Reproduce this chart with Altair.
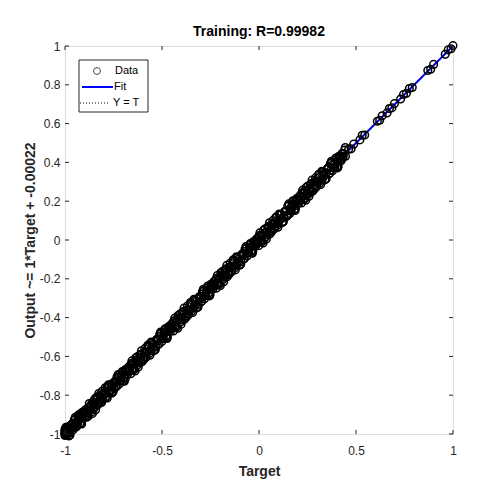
import altair as alt
import pandas as pd

targets = [-1.000, -0.995, -0.990, -0.984, -0.978, -0.971, -0.963, -0.955, -0.946, -0.938,
           -0.929, -0.920, -0.911, -0.902, -0.893, -0.884, -0.874, -0.865, -0.855, -0.846,
           -0.836, -0.826, -0.816, -0.806, -0.797, -0.787, -0.777, -0.767, -0.757, -0.746,
           -0.736, -0.726, -0.715, -0.705, -0.694, -0.684, -0.673, -0.662, -0.652, -0.641,
           -0.630, -0.620, -0.609, -0.598, -0.587, -0.577, -0.566, -0.555, -0.544, -0.533,
           -0.522, -0.511, -0.500, -0.489, -0.478, -0.467, -0.456, -0.445, -0.434, -0.423,
           -0.412, -0.401, -0.390, -0.379, -0.368, -0.357, -0.346, -0.335, -0.324, -0.313,
           -0.302, -0.291, -0.280, -0.269, -0.258, -0.247, -0.236, -0.225, -0.214, -0.203,
           -0.192, -0.181, -0.170, -0.159, -0.148, -0.137, -0.126, -0.115, -0.104, -0.093,
           -0.082, -0.071, -0.060, -0.049, -0.038, -0.027, -0.016, -0.005, 0.006, 0.017,
           0.028, 0.039, 0.050, 0.061, 0.072, 0.083, 0.094, 0.105, 0.116, 0.127,
           0.138, 0.149, 0.160, 0.171, 0.182, 0.193, 0.204, 0.215, 0.226, 0.237,
           0.248, 0.259, 0.270, 0.281, 0.292, 0.303, 0.314, 0.325, 0.336, 0.347,
           0.358, 0.369, 0.380, 0.391, 0.402, 0.413, 0.424, 0.435, 0.446,
           0.462, 0.475, 0.488, 0.520, 0.532, 0.545, 0.610, 0.622, 0.635, 0.660,
           0.672, 0.685, 0.698, 0.730, 0.745, 0.760, 0.775, 0.790, 0.870, 0.885,
           0.900, 0.960, 0.975, 0.990, 1.000]

outputs = [-0.996, -1.003, -0.985, -0.996, -0.970, -0.975, -0.948, -0.966, -0.940, -0.955,
           -0.927, -0.907, -0.918, -0.892, -0.907, -0.879, -0.876, -0.849, -0.865, -0.838,
           -0.824, -0.834, -0.812, -0.821, -0.788, -0.790, -0.760, -0.778, -0.751, -0.765,
           -0.734, -0.713, -0.722, -0.695, -0.708, -0.679, -0.675, -0.646, -0.662, -0.633,
           -0.618, -0.628, -0.605, -0.613, -0.578, -0.580, -0.549, -0.566, -0.538, -0.552,
           -0.520, -0.498, -0.507, -0.479, -0.492, -0.462, -0.458, -0.429, -0.444, -0.415,
           -0.400, -0.409, -0.386, -0.394, -0.359, -0.360, -0.329, -0.346, -0.318, -0.332,
           -0.300, -0.278, -0.287, -0.259, -0.272, -0.242, -0.238, -0.209, -0.224, -0.195,
           -0.180, -0.189, -0.166, -0.174, -0.139, -0.140, -0.109, -0.126, -0.098, -0.112,
           -0.080, -0.058, -0.067, -0.039, -0.052, -0.022, -0.018, 0.011, -0.004, 0.025,
           0.009, 0.041, 0.063, 0.054, 0.082, 0.069, 0.099, 0.103, 0.132, 0.117,
           0.146, 0.130, 0.162, 0.184, 0.175, 0.203, 0.190, 0.220, 0.224, 0.253,
           0.238, 0.267, 0.251, 0.283, 0.305, 0.296, 0.324, 0.311, 0.341, 0.345,
           0.374, 0.359, 0.388, 0.372, 0.404, 0.426, 0.417, 0.445, 0.432,
           0.468, 0.470, 0.494, 0.516, 0.540, 0.541, 0.612, 0.617, 0.640, 0.655,
           0.678, 0.681, 0.703, 0.727, 0.750, 0.756, 0.781, 0.786, 0.874, 0.880,
           0.905, 0.957, 0.980, 0.986, 1.002]

targets_b = [-0.998, -0.993, -0.987, -0.981, -0.975, -0.967, -0.959, -0.950, -0.942, -0.933,
             -0.924, -0.915, -0.906, -0.897, -0.888, -0.879, -0.869, -0.860, -0.850, -0.841,
             -0.831, -0.821, -0.811, -0.801, -0.792, -0.782, -0.772, -0.762, -0.752, -0.741,
             -0.731, -0.720, -0.710, -0.699, -0.689, -0.678, -0.668, -0.657, -0.646, -0.635,
             -0.625, -0.614, -0.603, -0.592, -0.582, -0.571, -0.560, -0.549, -0.538, -0.527,
             -0.516, -0.505, -0.494, -0.483, -0.472, -0.461, -0.450, -0.439, -0.428, -0.417,
             -0.406, -0.395, -0.384, -0.373, -0.362, -0.351, -0.340, -0.329, -0.318, -0.307,
             -0.296, -0.285, -0.274, -0.263, -0.252, -0.241, -0.230, -0.219, -0.208, -0.197,
             -0.186, -0.175, -0.164, -0.153, -0.142, -0.131, -0.120, -0.109, -0.098, -0.087,
             -0.076, -0.065, -0.054, -0.043, -0.032, -0.021, -0.010, 0.001, 0.012, 0.023,
             0.034, 0.045, 0.056, 0.067, 0.078, 0.089, 0.100, 0.111, 0.122, 0.133,
             0.144, 0.155, 0.166, 0.177, 0.188, 0.199, 0.210, 0.221, 0.232, 0.243,
             0.254, 0.265, 0.276, 0.287, 0.298, 0.309, 0.320, 0.331, 0.342, 0.353,
             0.364, 0.375, 0.386, 0.397, 0.408, 0.419, 0.430, 0.441,
             -1.000, -1.000, -1.000, -1.000, -1.000, -1.000]

outputs_b = [-1.002, -0.969, -1.000, -0.962, -0.995, -0.952, -0.968, -0.928, -0.959, -0.905,
             -0.944, -0.891, -0.919, -0.878, -0.914, -0.864, -0.878, -0.838, -0.867, -0.813,
             -0.849, -0.800, -0.836, -0.789, -0.814, -0.756, -0.783, -0.744, -0.780, -0.727,
             -0.751, -0.696, -0.723, -0.680, -0.715, -0.663, -0.677, -0.635, -0.663, -0.607,
             -0.643, -0.593, -0.628, -0.580, -0.604, -0.545, -0.571, -0.531, -0.566, -0.513,
             -0.536, -0.481, -0.507, -0.464, -0.498, -0.446, -0.459, -0.417, -0.445, -0.389,
             -0.424, -0.374, -0.409, -0.361, -0.384, -0.325, -0.351, -0.311, -0.346, -0.293,
             -0.316, -0.261, -0.287, -0.244, -0.278, -0.226, -0.239, -0.197, -0.225, -0.169,
             -0.204, -0.154, -0.189, -0.141, -0.164, -0.105, -0.131, -0.091, -0.126, -0.073,
             -0.096, -0.041, -0.067, -0.024, -0.058, -0.006, -0.019, 0.023, -0.005, 0.051,
             0.016, 0.066, 0.031, 0.079, 0.056, 0.115, 0.089, 0.129, 0.094, 0.147,
             0.124, 0.179, 0.153, 0.196, 0.162, 0.214, 0.201, 0.243, 0.215, 0.271,
             0.236, 0.286, 0.251, 0.299, 0.276, 0.335, 0.309, 0.349, 0.314, 0.367,
             0.344, 0.399, 0.373, 0.416, 0.382, 0.434, 0.421, 0.463,
             -0.990, -1.008, -0.982, -1.004, -0.994, -0.976]

targets_c = [-0.996, -0.985, -0.974, -0.963, -0.952, -0.941, -0.930, -0.919, -0.908, -0.897,
             -0.886, -0.875, -0.864, -0.853, -0.842, -0.831, -0.820, -0.809, -0.798, -0.787,
             -0.776, -0.765, -0.754, -0.743, -0.732, -0.721, -0.710, -0.699, -0.688, -0.677,
             -0.666, -0.655, -0.644, -0.633, -0.622, -0.611, -0.600, -0.589, -0.578, -0.567,
             -0.556, -0.545, -0.534, -0.523, -0.512, -0.501, -0.490, -0.479, -0.468, -0.457,
             -0.446, -0.435, -0.424, -0.413, -0.402, -0.391, -0.380, -0.369, -0.358, -0.347,
             -0.336, -0.325, -0.314, -0.303, -0.292, -0.281, -0.270, -0.259, -0.248, -0.237,
             -0.226, -0.215, -0.204, -0.193, -0.182, -0.171, -0.160, -0.149, -0.138, -0.127,
             -0.116, -0.105, -0.094, -0.083, -0.072, -0.061, -0.050, -0.039, -0.028, -0.017,
             -0.006, 0.005, 0.016, 0.027, 0.038, 0.049, 0.060, 0.071, 0.082, 0.093,
             0.104, 0.115, 0.126, 0.137, 0.148, 0.159, 0.170, 0.181, 0.192, 0.203,
             0.214, 0.225, 0.236, 0.247, 0.258, 0.269, 0.280, 0.291, 0.302, 0.313,
             0.324, 0.335, 0.346, 0.357, 0.368, 0.379, 0.390, 0.401, 0.412, 0.423,
             0.434, 0.445]

outputs_c = [-0.966, -0.991, -1.005, -0.953, -0.926, -0.963, -0.927, -0.946, -0.888, -0.911,
             -0.891, -0.843, -0.888, -0.846, -0.875, -0.809, -0.832, -0.780, -0.797, -0.806,
             -0.746, -0.771, -0.785, -0.733, -0.706, -0.743, -0.707, -0.726, -0.668, -0.691,
             -0.671, -0.623, -0.668, -0.626, -0.655, -0.589, -0.612, -0.560, -0.577, -0.586,
             -0.526, -0.551, -0.565, -0.513, -0.486, -0.523, -0.487, -0.506, -0.448, -0.471,
             -0.451, -0.403, -0.448, -0.406, -0.435, -0.369, -0.392, -0.340, -0.357, -0.366,
             -0.306, -0.331, -0.345, -0.293, -0.266, -0.303, -0.267, -0.286, -0.228, -0.251,
             -0.231, -0.183, -0.228, -0.186, -0.215, -0.149, -0.172, -0.120, -0.137, -0.146,
             -0.086, -0.111, -0.125, -0.073, -0.046, -0.083, -0.047, -0.066, -0.008, -0.031,
             -0.011, 0.037, -0.008, 0.034, 0.005, 0.071, 0.048, 0.100, 0.083, 0.074,
             0.134, 0.109, 0.095, 0.147, 0.174, 0.137, 0.173, 0.154, 0.212, 0.189,
             0.209, 0.257, 0.212, 0.254, 0.225, 0.291, 0.268, 0.320, 0.303, 0.294,
             0.354, 0.329, 0.315, 0.367, 0.394, 0.357, 0.393, 0.374, 0.432, 0.409,
             0.429, 0.477]

targets_d = [-0.991, -0.980, -0.969, -0.958, -0.947, -0.936, -0.925, -0.914, -0.903, -0.892,
             -0.881, -0.870, -0.859, -0.848, -0.837, -0.826, -0.815, -0.804, -0.793, -0.782,
             -0.771, -0.760, -0.749, -0.738, -0.727, -0.716, -0.705, -0.694, -0.683, -0.672,
             -0.661, -0.650, -0.639, -0.628, -0.617, -0.606, -0.595, -0.584, -0.573, -0.562,
             -0.551, -0.540, -0.529, -0.518, -0.507, -0.496, -0.485, -0.474, -0.463, -0.452,
             -0.441, -0.430, -0.419, -0.408, -0.397, -0.386, -0.375, -0.364, -0.353, -0.342,
             -0.331, -0.320, -0.309, -0.298, -0.287, -0.276, -0.265, -0.254, -0.243, -0.232,
             -0.221, -0.210, -0.199, -0.188, -0.177, -0.166, -0.155, -0.144, -0.133, -0.122,
             -0.111, -0.100, -0.089, -0.078, -0.067, -0.056, -0.045, -0.034, -0.023, -0.012,
             -0.001, 0.010, 0.021, 0.032, 0.043, 0.054, 0.065, 0.076, 0.087, 0.098,
             0.109, 0.120, 0.131, 0.142, 0.153, 0.164, 0.175, 0.186, 0.197, 0.208,
             0.219, 0.230, 0.241, 0.252, 0.263, 0.274, 0.285, 0.296, 0.307, 0.318,
             0.329, 0.340, 0.351, 0.362, 0.373, 0.384, 0.395, 0.406, 0.417, 0.428]

outputs_d = [-0.969, -1.010, -0.955, -0.978, -0.914, -0.946, -0.898, -0.948, -0.895, -0.874,
             -0.909, -0.859, -0.895, -0.822, -0.852, -0.791, -0.838, -0.800, -0.762, -0.814,
             -0.749, -0.790, -0.735, -0.758, -0.694, -0.726, -0.678, -0.728, -0.675, -0.654,
             -0.689, -0.639, -0.675, -0.602, -0.632, -0.571, -0.618, -0.580, -0.542, -0.594,
             -0.529, -0.570, -0.515, -0.538, -0.474, -0.506, -0.458, -0.508, -0.455, -0.434,
             -0.469, -0.419, -0.455, -0.382, -0.412, -0.351, -0.398, -0.360, -0.322, -0.374,
             -0.309, -0.350, -0.295, -0.318, -0.254, -0.286, -0.238, -0.288, -0.235, -0.214,
             -0.249, -0.199, -0.235, -0.162, -0.192, -0.131, -0.178, -0.140, -0.102, -0.154,
             -0.089, -0.130, -0.075, -0.098, -0.034, -0.066, -0.018, -0.068, -0.015, 0.006,
             -0.029, 0.021, -0.015, 0.058, 0.028, 0.089, 0.042, 0.080, 0.118, 0.066,
             0.131, 0.090, 0.145, 0.122, 0.186, 0.154, 0.202, 0.152, 0.205, 0.226,
             0.191, 0.241, 0.205, 0.278, 0.248, 0.309, 0.262, 0.300, 0.338, 0.286,
             0.351, 0.310, 0.365, 0.342, 0.406, 0.374, 0.422, 0.372, 0.425, 0.446]

fit_x = [-1.0, 1.0]
fit_y = [-1.00022, 0.99978]
ident = [-1.0, 1.0]
x_ticks = [-1, -0.5, 0, 0.5, 1]
y_ticks = [-1, -0.8, -0.6, -0.4, -0.2, 0, 0.2, 0.4, 0.6, 0.8, 1]
legend_labels = ["Data", "Fit", "Y = T"]

W, H = 388, 388
FONT = "Liberation Sans"
xs = alt.Scale(domain=[-1, 1], nice=False, zero=False)
ys = alt.Scale(domain=[-1, 1], nice=False, zero=False)

df = pd.DataFrame({"t": targets + targets_b + targets_c + targets_d,
                   "o": outputs + outputs_b + outputs_c + outputs_d})
fit_df = pd.DataFrame({"t": fit_x, "o": fit_y})
id_df = pd.DataFrame({"t": ident, "o": ident})
xt = pd.DataFrame({"t": x_ticks})
yt = pd.DataFrame({"o": y_ticks})
one = pd.DataFrame({"a": [0]})

lbl = "replace(format(datum.value, '~g'), '\u2212', '-')"
xaxis = alt.Axis(values=x_ticks, ticks=False, domain=False, grid=False, labelOverlap=False,
                 labelFont=FONT, labelFontSize=12, labelColor="#262626", labelPadding=11,
                 labelExpr=lbl,
                 title="Target", titleFont=FONT, titleFontSize=14, titleFontWeight="bold",
                 titleColor="#262626", titlePadding=8)
yaxis = alt.Axis(values=y_ticks, ticks=False, domain=False, grid=False, labelOverlap=False,
                 labelFont=FONT, labelFontSize=12, labelColor="#262626", labelPadding=5,
                 labelExpr=lbl,
                 title="Output ~= 1*Target + -0.00022", titleFont=FONT, titleFontSize=14,
                 titleFontWeight="bold", titleColor="#262626", titlePadding=2)


def X():
    return alt.X("t:Q", scale=xs, axis=xaxis)


def Y():
    return alt.Y("o:Q", scale=ys, axis=yaxis)


fit = alt.Chart(fit_df).mark_line(color="#0000FF", strokeWidth=2).encode(x=X(), y=Y())
idl = alt.Chart(id_df).mark_line(color="black", strokeWidth=1, strokeDash=[1, 2]).encode(x=X(), y=Y())
pts = alt.Chart(df).mark_point(shape="circle", filled=False, color="black", size=58,
                               strokeWidth=1.5, opacity=1).encode(x=X(), y=Y())

tk = dict(color="#262626", strokeWidth=1)
tb = alt.Chart(xt).mark_rule(**tk).encode(x=X(), y=alt.value(H), y2=alt.value(H - 4))
tt = alt.Chart(xt).mark_rule(**tk).encode(x=X(), y=alt.value(0), y2=alt.value(4))
tl = alt.Chart(yt).mark_rule(**tk).encode(y=Y(), x=alt.value(0), x2=alt.value(4))
tr = alt.Chart(yt).mark_rule(**tk).encode(y=Y(), x=alt.value(W), x2=alt.value(W - 4))

# legend
lbox = alt.Chart(one).mark_rect(fill="white", stroke="#262626", strokeWidth=1).encode(
    x=alt.value(14), x2=alt.value(83), y=alt.value(14), y2=alt.value(66))
lpt = alt.Chart(one).mark_point(shape="circle", filled=False, color="black", size=48,
                                strokeWidth=1).encode(x=alt.value(32), y=alt.value(25))
lfit = alt.Chart(one).mark_rule(color="#0000FF", strokeWidth=2).encode(
    x=alt.value(17), x2=alt.value(48), y=alt.value(41))
lid = alt.Chart(one).mark_rule(color="black", strokeWidth=1, strokeDash=[1, 2]).encode(
    x=alt.value(15), x2=alt.value(44), y=alt.value(57))
ltxt_df = pd.DataFrame({"label": legend_labels, "px": [50, 49, 48], "py": [25, 41, 57]})
ltxt = alt.Chart(ltxt_df).mark_text(align="left", baseline="middle", font=FONT, fontSize=11,
                                    color="black").encode(
    x=alt.X("px:Q", scale=None), y=alt.Y("py:Q", scale=None), text="label:N")

chart = alt.layer(fit, idl, pts, tb, tt, tl, tr, lbox, lpt, lfit, lid, ltxt).properties(
    width=W, height=H,
    title=alt.TitleParams("Training: R=0.99982", font=FONT, fontSize=14, fontWeight="bold",
                          color="black", offset=0),
    autosize=alt.AutoSizeParams(type="none"),
    padding={"left": 57, "top": 38, "right": 39, "bottom": 58},
).configure_view(stroke="#262626", strokeWidth=1).configure(background="white"
).configure_axis(labelOverlap=False, labelBound=False, labelFlush=False)

chart.save("out.html", embed_options={"renderer": "svg", "actions": False})
